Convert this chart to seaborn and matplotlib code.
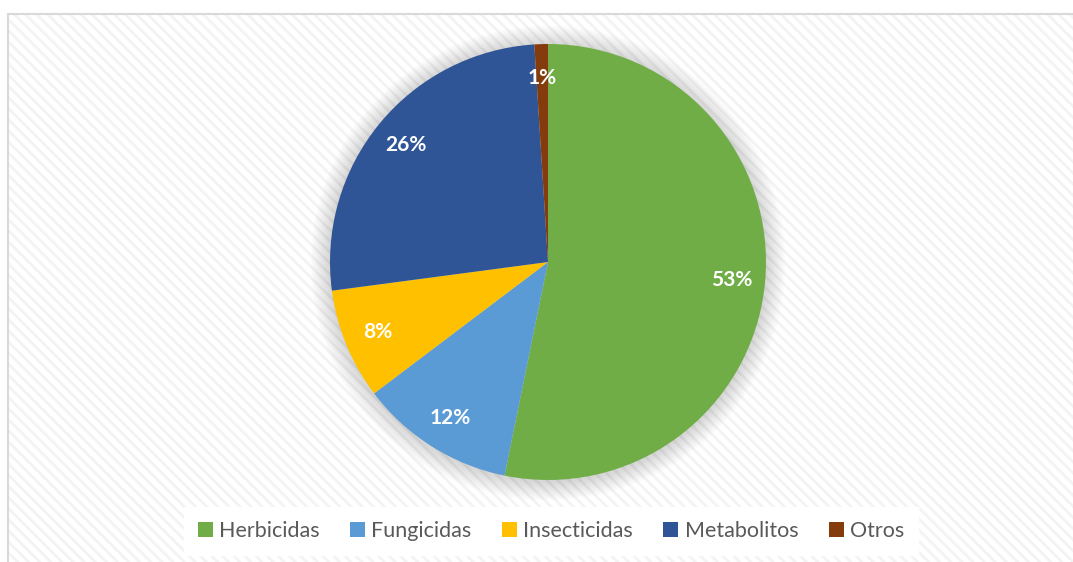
import matplotlib
matplotlib.use("Agg")
import matplotlib.pyplot as plt
import seaborn as sns
from matplotlib.patches import Rectangle, Circle, Patch

categories = ["Herbicidas", "Fungicidas", "Insecticidas", "Metabolitos", "Otros"]
values = [53.2, 11.5, 8.2, 26.1, 1.0]
colors = ["#70AD47", "#5B9BD5", "#FFC000", "#2F5597", "#843C0C"]

sns.set_theme(style="white")
plt.rcParams["font.family"] = ["Lato", "DejaVu Sans"]
plt.rcParams["hatch.linewidth"] = 2.0
plt.rcParams["hatch.color"] = "#f3f3f3"

W, H = 1073, 562
fig = plt.figure(figsize=(W / 100, H / 100), dpi=100)
fig.patch.set_facecolor("white")

# chart area background with diagonal hatch and light border
bg = Rectangle((8 / W, -0.05), 1.1, (H - 14) / H + 0.05, transform=fig.transFigure,
               facecolor="white", edgecolor="#f3f3f3", hatch="\\\\\\", linewidth=0, zorder=-2)
fig.patches.append(bg)
border = Rectangle((8 / W, -0.05), 1.1, (H - 14) / H + 0.05, transform=fig.transFigure,
                   facecolor="none", edgecolor="#d9d9d9", linewidth=1.5, zorder=-1)
fig.patches.append(border)

cx, cy, r = 548, 262, 218
lim = 1.25
size = 2 * r * lim
ax = fig.add_axes([(cx - r * lim) / W, (H - cy - r * lim) / H, size / W, size / H])
ax.set_facecolor("none")
ax.set_zorder(2)

# soft shadow
n = 20
for i in range(n):
    rad = 1.0 + 0.0045 * (n - i)
    ax.add_patch(Circle((0, -0.005), rad, facecolor="#000000", alpha=0.009, linewidth=0, zorder=0))

wedges, texts, autotexts = ax.pie(
    values, colors=colors, startangle=90, counterclock=False,
    autopct=lambda p: f"{p:.0f}%", pctdistance=0.845,
    wedgeprops=dict(linewidth=0), textprops=dict(color="white", fontsize=15, fontweight="bold"),
)
for w in wedges:
    w.set_zorder(2)
for t in autotexts:
    t.set_zorder(3)
ax.set_xlim(-lim, lim)
ax.set_ylim(-lim, lim)
ax.set_aspect("equal")
ax.axis("off")

handles = [Patch(facecolor=c, edgecolor="none") for c in colors]
leg = fig.legend(handles, categories, loc="center", bbox_to_anchor=(551 / W, 1 - 531 / H),
                 ncol=5, frameon=True, fontsize=15.5, handlelength=0.7, handleheight=0.7,
                 handletextpad=0.3, columnspacing=1.4, borderpad=0.65, borderaxespad=0,
                 fancybox=False)
leg.get_frame().set_facecolor("white")
leg.get_frame().set_edgecolor("white")
leg.get_frame().set_alpha(1)
leg.set_zorder(5)
for t in leg.get_texts():
    t.set_color("#595959")

fig.savefig("out.png", dpi=100)
